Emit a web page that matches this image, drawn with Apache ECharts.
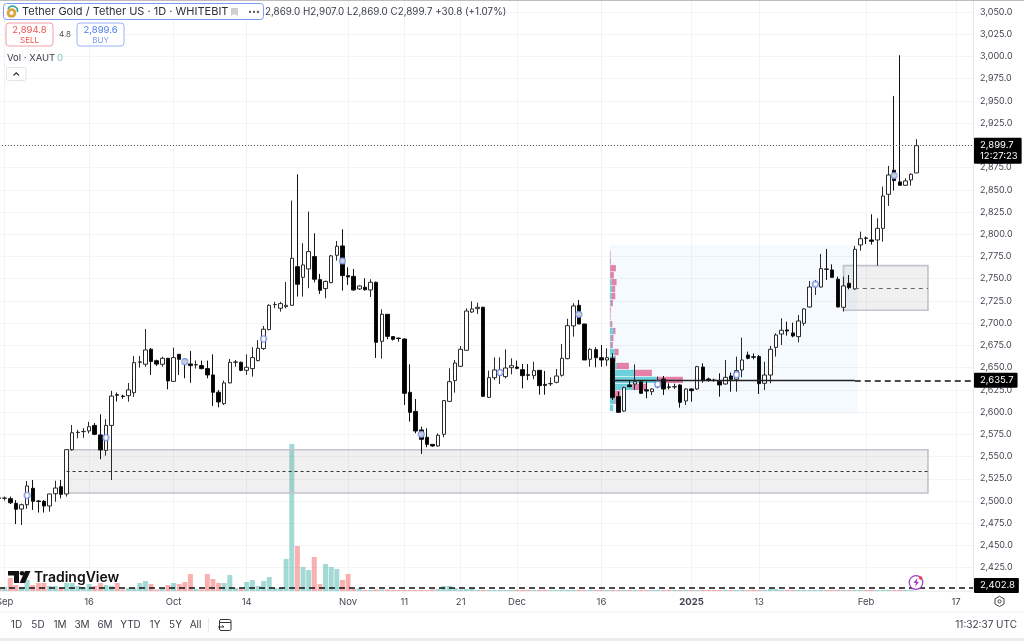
<!DOCTYPE html>
<html><head><meta charset="utf-8">
<style>html,body{margin:0;padding:0;background:#fff;overflow:hidden}#c{width:1024px;height:641px}</style>
<script src="https://cdn.jsdelivr.net/npm/echarts@6/dist/echarts.min.js"></script>
</head><body><div id="c"></div>
<script>
// ---------- DATA (first entry = 31 Aug 2024, then one per day) ----------
const opens=[2503.5,2503,2502.6,2497.4,2491,2495.8,2514.3,2500,2499.7,2494.4,2508.2,2516.1,2507.9,2557.7,2577,2578,2578.8,2585,2574.3,2557,2585,2619.5,2618,2618.5,2621.8,2656,2653.8,2670.7,2657.8,2653.8,2660.5,
2634.6,2665,2659.4,2654.2,2653,2652.3,2648.9,2641.8,2622.3,2609.5,2632.8,2656,2656,2647,2648.9,2657.9,2671.4,2692.8,2720.9,2716.8,2718.6,2720.1,2763.6,2751.6,2761,2774.9,2749,2738.9,2745.6,2776.4,
2786.9,2753.5,2752.7,2738.5,2740.4,2737.4,2746,2679.6,2710,2684.9,2683.2,2682.2,2622.2,2600.8,2579.9,2571.6,2563.7,2561.9,2575,2612.1,2635.4,2651.5,2669.5,2712.6,2716.4,2717.9,2616.6,2638.7,2641.7,2639.9,
2650,2650.7,2647.7,2641.9,2641,2647,2631.2,2631.8,2633.5,2641.4,2660.1,2696.9,2720.1,2699.1,2659.4,2670.2,2661.2,2658.6,2660.5,2617.4,2601.2,2630.5,2631.6,2634.2,2625,2623,2628.6,2637.2,2628.3,2628.4,2630.5,2612.5,2626,
2626,2650.7,2637.2,2635.9,2634.6,2631.6,2640.6,2636.9,2647.4,2664.2,2662.2,2662.4,2632.4,2641.7,2672.8,2687.8,2692.4,2689,2684.9,2699.9,2718.2,2741.9,2740.7,2760.9,2759.9,2749.4,2717.9,2744.9,2738.5,2788,2795.7,2793.6,2793.6,2806.7,2845,2872,2858.9,2855.1,2861.1,2869];
const highs=[2505,2505,2505,2501,2497,2522.5,2523.6,2501,2501,2508,2522.8,2523.6,2558,2585.5,2580,2582,2589,2587.7,2597.5,2592,2624,2622,2619.5,2632.7,2663,2663,2693.5,2672,2659,2662.3,2661,
2672.5,2665,2660.5,2668.8,2658,2657.9,2657.9,2665,2624.9,2635.4,2659.8,2658.6,2656.8,2665,2673,2681,2696.9,2721.3,2724,2724,2746.4,2837.9,2867.5,2789.9,2825.5,2801.1,2755.4,2747.9,2776.8,2792.5,
2805.6,2762.9,2761,2742.6,2750.5,2749.4,2746.7,2715.6,2710,2685.6,2683.7,2683,2653.7,2614.7,2583.6,2581.7,2564.1,2576.1,2613.6,2649.2,2658.6,2674.4,2716.7,2724.6,2723.1,2718.6,2646.6,2661.6,2661.6,2670.6,
2660.5,2657.9,2654.1,2654,2656.7,2647.3,2646.2,2639,2648.5,2676.6,2705,2722.4,2726.1,2699.1,2671.7,2672.9,2675.5,2671.7,2666.1,2623,2628.6,2636.1,2653.7,2634.2,2634.2,2626.7,2639.9,2640.6,2632.4,2632,2631.2,2626.7,2626.7,
2652,2654.9,2638.7,2637.6,2643.6,2658.6,2644.4,2662.4,2683.7,2668,2666,2664.2,2656.7,2674.4,2688.6,2705.5,2701.7,2700.6,2709.2,2716.7,2747.5,2748.6,2777.9,2783.5,2766.2,2752.4,2752.4,2754.2,2786.9,2803,2797.4,2822.5,2818,2853.6,2876.9,2955.6,3001.4,2863,2868.6,2907];
const lows=[2501,2500.5,2496.6,2474,2473,2491.3,2490,2487,2487,2488,2499.2,2503,2505,2556.6,2570.5,2571,2576,2574,2547,2551,2523.6,2612,2615,2611.7,2617,2650,2651,2641.7,2652,2651,2625.6,
2634,2641.8,2638,2633,2649,2648,2638,2606.9,2605.4,2608,2632.4,2651,2646,2641.8,2639.9,2657,2670,2692,2716.8,2713,2716.8,2719.8,2729.9,2729.9,2739.3,2746,2732.9,2728,2744.9,2770.4,
2736.6,2743,2736.6,2737.4,2736.6,2729.5,2660.9,2660.1,2681.9,2680.4,2679.2,2608,2589.2,2576.1,2552.9,2560.4,2561,2561.1,2571.6,2611.4,2621.9,2650.7,2669.1,2711.5,2710.4,2617.4,2615.9,2636.1,2631.6,2638,
2642.5,2648.1,2626.7,2636,2636.9,2619.6,2619.6,2629.4,2632.4,2639.9,2659.4,2684.9,2699.1,2658.6,2651.1,2650.4,2651.1,2651.9,2613.6,2599.3,2600.4,2627.9,2625,2620.4,2615.5,2619.2,2626.7,2619.2,2625.6,2626,2605,2608,2611.7,
2625,2633.1,2634.2,2634.2,2617.4,2631,2623,2623,2639.1,2659.4,2659.4,2620.4,2624.9,2632.4,2662.4,2675.5,2686,2684.1,2678.5,2697.2,2717.5,2731.7,2740,2748.6,2751.2,2717.9,2713,2738.1,2737.4,2781.6,2789.1,2788.4,2764.7,2791.7,2831.9,2849.1,2855,2854.7,2854.7,2869];
const closes=[2503,2503.4,2498,2490.7,2495.8,2516.9,2499.7,2499.5,2494.4,2507.9,2514.6,2507.5,2557.7,2576.8,2577.3,2578.3,2583.6,2575,2557.4,2585,2618,2619,2617.5,2625,2655.6,2656.5,2669.9,2657,2654,2660.5,2635,
2661.3,2659.4,2654.9,2652.3,2653.4,2648.9,2641.8,2622.3,2611.4,2632.8,2656,2656.4,2647,2650.4,2661.3,2671.8,2693.2,2720.1,2721,2722,2720.1,2773,2743.8,2765.5,2780.5,2749.4,2737,2747,2775.7,2786.5,
2753.5,2752,2737.4,2741.9,2737.7,2746,2678.5,2710,2685.2,2681.9,2682.8,2621.1,2599.7,2578.7,2569.4,2563.7,2561.9,2573.9,2612.9,2634.2,2655.2,2670.6,2713.7,2716,2717.9,2617.7,2638.7,2647.4,2647.4,2649.6,
2652.2,2649.2,2641,2641.5,2646.6,2629.7,2630.1,2632.2,2640.6,2660.5,2697.2,2719.4,2699.1,2658.6,2670.6,2661.2,2658.6,2661.2,2616.2,2599.7,2627.5,2628.6,2634.2,2621.1,2623.7,2626,2634.2,2626,2628,2628.6,2611,2626,2624.1,
2651.1,2635.4,2635.7,2635.7,2630.5,2639.1,2636.9,2646.6,2658.6,2660.5,2661.8,2632,2641.7,2670.6,2686.7,2692,2691.2,2685.6,2702.5,2716,2740.7,2745.6,2761.4,2760.6,2751.6,2718.2,2741.9,2740,2783.1,2795,2795.5,2792.1,2806.7,2843.1,2866.7,2860.4,2855.1,2860,2867.5,2899.7];
const volumes=[3,4,13,6,4,11,6,8,8,5,5,3,8,8,5,4,7,5,8,6,5,8,1.5,3,3,8,10,7,1.5,3,6,8,7,9,17,2,1.5,17,12,8,8,16,3,2,9,11,5,10,14,3,3,32,147,45,24,21,34,7,27,24,22,11,17,2,3,1,1,1.5,1.5,1.5,1,1,1,1,1,1,1,1.5,2,5,5,3,1.5,2,3,1,1,1,1,1.2,1,1,1.2,1,1.2,1,1,1.2,1,1,1.3,1.2,1,1.2,1,1.2,1,1,1.2,1,1,1.2,1,1.2,1,1,1,1.2,1,1.2,1,1,1.2,1,1,1.2,1.2,1,1,1.2,1,1,1.2,1,1.2,1,1,2,2,1,1.2,1,1,1.2,1,1,1.2,1,1,1.2,1,1,1.2,1,1,1.2,1,1,1.2,1,1.2,1,1.2];
const marksAt=[5,19,33,47,61,75,89,103,117,131,145,159];
const marksPrice=[2506.4,2571.2,2656.7,2682.3,2770,2575,2644.4,2710,2631.3,2642,2743.8,2866];
const xLabels={'2024-09-01':'Sep','2024-09-16':'16','2024-10-01':'Oct','2024-10-14':'14','2024-11-01':'Nov','2024-11-11':'11','2024-11-21':'21','2024-12-01':'Dec','2024-12-16':'16','2025-01-01':'2025','2025-01-13':'13','2025-02-01':'Feb','2025-02-17':'17'};
// volume profile rows, low price to high
const vpBase=2600.5, vpStep=7.85;
const vpUpVol=[3.3,5,5,23,47,25,7,5,5,1,1.3,3.3,0.7,0.2,0.2,1,1.7,2.3,1.7,0.5,0.3,0.3,0.2];
const vpDownVol=[0,1,5.7,14,26,17,12,1,3.7,2,2.3,2.3,1.7,0.5,0.7,2,3.7,3,5,3.5,5.7,0.7,0.5];
// zones: startDay, endDay, low, high
const zones=[[12,165,2509,2557.7],[150,165,2714.5,2764.7]];
const lastPrice=2899.7, pocPrice=2635.7, lowLevel=2402.8;

// ---------- build ----------
const cats=[];const d0=Date.UTC(2024,7,31);
for(let i=0;i<174;i++){cats.push(new Date(d0+i*864e5).toISOString().slice(0,10));}
const candle=opens.map((o,i)=>[o,closes[i],lows[i],highs[i]]);
const F='Inter, "Liberation Sans", sans-serif', TX='#434651';
const fmt=v=>v.toLocaleString('en-US',{minimumFractionDigits:1,maximumFractionDigits:1});
const isTick=(i,v)=>xLabels[v]!==undefined;
const vol=volumes.map((v,i)=>({value:v,itemStyle:{color:closes[i]>=opens[i]?'rgba(38,166,154,.42)':'rgba(239,83,80,.45)'}}));
const lbl=(t,dy)=>({show:true,position:'end',distance:1,formatter:t,color:'#fff',backgroundColor:'#000',padding:[2,4,2,6],fontFamily:F,fontSize:9.5,lineHeight:11,borderRadius:1,offset:[0,dy]});

const option={animation:false,backgroundColor:'#fff',
 grid:[{left:-1,right:51,top:-10.2,height:600.1,outerBoundsMode:'none'},{left:-1,right:51,top:0,height:591,outerBoundsMode:'none'}],
 xAxis:[
  {type:'category',gridIndex:0,data:cats,boundaryGap:false,show:false},
  {type:'category',gridIndex:1,data:cats,boundaryGap:false,
   axisLine:{show:true,lineStyle:{color:'#eeeff2'}},axisTick:{show:false},
   splitLine:{show:true,interval:isTick,lineStyle:{color:'#f2f3f5',width:1}},
   axisLabel:{show:true,interval:isTick,margin:6,hideOverlap:false,showMinLabel:true,showMaxLabel:true,color:TX,fontFamily:F,fontSize:9.5,
     formatter:v=>xLabels[v]==='2025'?'{b|2025}':(xLabels[v]||''),rich:{b:{fontWeight:700,fontFamily:F,fontSize:9.5,color:TX}}}}
 ],
 yAxis:[
  {type:'value',gridIndex:0,position:'right',min:2400,max:3075,interval:25,
   axisLine:{show:true,lineStyle:{color:'#e6e7ea'}},axisTick:{show:false},
   splitLine:{show:true,lineStyle:{color:'#f3f4f6',width:1}},
   axisLabel:{margin:7,color:TX,fontFamily:F,fontSize:9,showMinLabel:false,showMaxLabel:false,formatter:v=>fmt(v)}},
  {type:'value',gridIndex:1,min:0,max:591,show:false}
 ],
 series:[
  {type:'bar',name:'Volume',xAxisIndex:1,yAxisIndex:1,data:vol,barWidth:5,z:1,silent:true},
  {type:'custom',name:'Range',xAxisIndex:0,yAxisIndex:0,z:1,silent:true,clip:false,data:[[109,152,2599,2788]],
   renderItem:(p,api)=>{const a=api.coord([api.value(0),api.value(3)]),b=api.coord([api.value(1),api.value(2)]);const h=api.size([1,0])[0]/2;
     return {type:'rect',shape:{x:a[0]-h,y:a[1],width:b[0]-a[0]+2*h,height:b[1]-a[1]},style:{fill:'rgba(33,150,243,.05)'}};}},
  {type:'custom',name:'Zones',xAxisIndex:0,yAxisIndex:0,z:2,silent:true,clip:false,data:zones,
   renderItem:(p,api)=>{const a=api.coord([api.value(0),api.value(3)]),b=api.coord([api.value(1),api.value(2)]);
     return {type:'rect',shape:{x:a[0],y:a[1],width:b[0]-a[0],height:b[1]-a[1]},style:{fill:'rgba(120,123,134,.115)',stroke:'#c2c3cc',lineWidth:1.6}};}},
  {type:'custom',name:'Profile',xAxisIndex:0,yAxisIndex:0,z:3,silent:true,clip:false,data:vpUpVol.map((u,i)=>[i,u,vpDownVol[i]]),
   renderItem:(p,api)=>{const r=api.value(0),x0=api.coord([109,vpBase])[0]-api.size([1,0])[0]/2;
     const top=api.coord([109,vpBase+(r+1)*vpStep])[1],bot=api.coord([109,vpBase+r*vpStep])[1];
     const u=api.value(1),dn=api.value(2),h=bot-top-.7;
     return {type:'group',children:[
      {type:'rect',shape:{x:x0,y:top,width:u,height:h},style:{fill:'rgba(0,172,193,.55)'}},
      {type:'rect',shape:{x:x0+u,y:top,width:dn,height:h},style:{fill:'rgba(216,27,96,.55)'}}]};}},
  {type:'candlestick',name:'XAUT',xAxisIndex:0,yAxisIndex:0,data:candle,barWidth:4,z:5,silent:true,
   itemStyle:{color:'#fff',color0:'#000',borderColor:'#2a2a2a',borderColor0:'#111',borderWidth:1},
   markLine:{silent:true,symbol:'none',animation:false,z:6,data:[
     [{coord:[0,lastPrice],lineStyle:{color:'#555',type:[1,2],width:1},label:lbl(fmt(lastPrice)+'\n12:27:23',5)},{coord:[173,lastPrice]}],
     [{coord:[109,pocPrice],lineStyle:{color:'#222',type:'solid',width:1.4},label:{show:false}},{coord:[152,pocPrice]}],
     [{coord:[152,pocPrice],lineStyle:{color:'#111',type:[6,4],width:1.5},label:lbl(fmt(pocPrice),0)},{coord:[173,pocPrice]}],
     [{coord:[0,lowLevel],lineStyle:{color:'#111',type:[6,4],width:1.5},label:lbl(fmt(lowLevel),-2)},{coord:[173,lowLevel]}],
     [{coord:[12,2533.7],lineStyle:{color:'#333',type:[3,3],width:1},label:{show:false}},{coord:[165,2533.7]}],
     [{coord:[152,2739.7],lineStyle:{color:'#666',type:[4,4],width:1},label:{show:false}},{coord:[165,2739.7]}]
   ]}},
  {type:'scatter',name:'Events',xAxisIndex:0,yAxisIndex:0,z:7,silent:true,symbol:'circle',symbolSize:6,
   data:marksAt.map((x,i)=>[x,marksPrice[i]]),itemStyle:{color:'#fff',borderColor:'#6f8ff0',borderWidth:1.3}}
 ],
 graphic:{elements:[
  {type:'rect',shape:{x:0,y:0,width:1024,height:1},style:{fill:'#bdbdbd'},z:20},
  {type:'rect',shape:{x:0,y:611.5,width:1024,height:1},style:{fill:'#eceef1'},z:20},
  {type:'rect',shape:{x:0,y:638,width:1024,height:3},style:{fill:'#ececec'},z:20},
  // header chip
  {type:'rect',shape:{x:3.5,y:3.5,width:260,height:16,r:3},style:{fill:'#fff',stroke:'#7d9af5',lineWidth:1},z:20},
  {type:'circle',shape:{cx:11.5,cy:13,r:4.8},style:{fill:'#d9a441'},z:21},
  {type:'circle',shape:{cx:11.5,cy:13,r:2},style:{fill:'#fff'},z:22},
  {type:'arc',shape:{cx:12.5,cy:11,r:5,startAngle:-2.7,endAngle:0.2},style:{stroke:'#2aa198',fill:'none',lineWidth:1.6},z:22},
  {type:'text',x:22,y:12,style:{text:'Tether Gold / Tether US · 1D · WHITEBIT',font:'11px '+F,fill:'#2a2e39',verticalAlign:'middle'},z:21},
  {type:'polygon',shape:{points:[[231,8],[238,8],[238,16],[234,14],[231,16]]},style:{fill:'#cfcfcf'},z:21},
  {type:'text',x:248,y:12,style:{text:'•••',font:'7px '+F,fill:'#555',verticalAlign:'middle'},z:21},
  {type:'text',x:265,y:12,style:{text:'2,869.0 H2,907.0 L2,869.0 C2,899.7 +30.8 (+1.07%)',font:'9.8px '+F,fill:'#3a3e49',verticalAlign:'middle'},z:21},
  // sell / buy
  {type:'rect',shape:{x:6,y:23,width:47,height:23,r:3},style:{fill:'#fff',stroke:'#f0a0a6',lineWidth:1},z:20},
  {type:'text',x:29.5,y:30.5,style:{text:'2,894.8',font:'9.5px '+F,fill:'#ef5350',align:'center',verticalAlign:'middle'},z:21},
  {type:'text',x:29.5,y:40.5,style:{text:'SELL',font:'8px '+F,fill:'#ef5350',align:'center',verticalAlign:'middle'},z:21},
  {type:'text',x:65,y:35,style:{text:'4.8',font:'8px '+F,fill:'#555',align:'center',verticalAlign:'middle'},z:21},
  {type:'rect',shape:{x:77,y:23,width:47,height:23,r:3},style:{fill:'#fff',stroke:'#9ab2f5',lineWidth:1},z:20},
  {type:'text',x:100.5,y:30.5,style:{text:'2,899.6',font:'9.5px '+F,fill:'#4a7bef',align:'center',verticalAlign:'middle'},z:21},
  {type:'text',x:100.5,y:40.5,style:{text:'BUY',font:'8px '+F,fill:'#7b9cf3',align:'center',verticalAlign:'middle'},z:21},
  {type:'text',x:7,y:58,style:{text:'Vol · XAUT',font:'9.5px '+F,fill:'#3a3e49',verticalAlign:'middle'},z:21},
  {type:'text',x:57,y:58,style:{text:'0',font:'9.5px '+F,fill:'#7fc6bd',verticalAlign:'middle'},z:21},
  {type:'rect',shape:{x:6.5,y:67.5,width:19.5,height:13,r:2},style:{fill:'#fff',stroke:'#e3e4e8',lineWidth:1},z:20},
  {type:'polyline',shape:{points:[[13.5,75.5],[16.2,72.8],[19,75.5]]},style:{stroke:'#333',fill:'none',lineWidth:1.1},z:21},
  // TradingView logo
  {type:'polygon',shape:{points:[[8,571],[19,571],[19,583],[14,583],[14,575.5],[8,575.5]]},style:{fill:'#111'},z:15},
  {type:'circle',shape:{cx:22,cy:573.3,r:2.3},style:{fill:'#111'},z:15},
  {type:'polygon',shape:{points:[[19.5,583],[25,571],[30.5,571],[25,583]]},style:{fill:'#111'},z:15},
  {type:'text',x:34,y:577.5,style:{text:'TradingView',font:'600 14px '+F,fill:'#111',verticalAlign:'middle'},z:15},
  // lightning
  {type:'circle',shape:{cx:916,cy:582.5,r:6.8},style:{fill:'#fff',stroke:'#a23bc4',lineWidth:1.2},z:15},
  {type:'polygon',shape:{points:[[917.5,577.8],[913.5,583],[916,583],[915,587],[919,581.8],[916.6,581.8]]},style:{fill:'#a23bc4'},z:16},
  {type:'circle',shape:{cx:920.7,cy:578,r:1.7},style:{fill:'#f23645'},z:17},
  // gear
  {type:'polygon',shape:{points:[[999.5,596.3],[1004,598.8],[1004,604],[999.5,606.5],[995,604],[995,598.8]]},style:{fill:'#fff',stroke:'#444',lineWidth:1},z:15},
  {type:'circle',shape:{cx:999.5,cy:601.4,r:1.6},style:{fill:'#fff',stroke:'#444',lineWidth:1},z:16},
  // bottom bar
  ...[['1D',16.5],['5D',38],['1M',60],['3M',82],['6M',105],['YTD',130.5],['1Y',155],['5Y',175.5],['All',195.5]].map(a=>({type:'text',x:a[1],y:625,style:{text:a[0],font:'10px '+F,fill:'#3a3e49',align:'center',verticalAlign:'middle'},z:21})),
  {type:'rect',shape:{x:208,y:618,width:1,height:14},style:{fill:'#e6e7ea'},z:20},
  {type:'rect',shape:{x:219.5,y:619.5,width:11.5,height:11,r:1.5},style:{fill:'#fff',stroke:'#333',lineWidth:1},z:21},
  {type:'rect',shape:{x:219,y:622,width:12,height:1},style:{fill:'#333'},z:22},
  {type:'polyline',shape:{points:[[218,627],[224,627],[222.2,625.2]]},style:{stroke:'#333',fill:'none',lineWidth:1},z:23},
  {type:'text',x:1017,y:625,style:{text:'11:32:37 UTC',font:'10px '+F,fill:'#3a3e49',align:'right',verticalAlign:'middle'},z:21}
 ]}
};
const chart=echarts.init(document.getElementById('c'),null,{renderer:'canvas',width:1024,height:641});
chart.setOption(option);
</script></body></html>
